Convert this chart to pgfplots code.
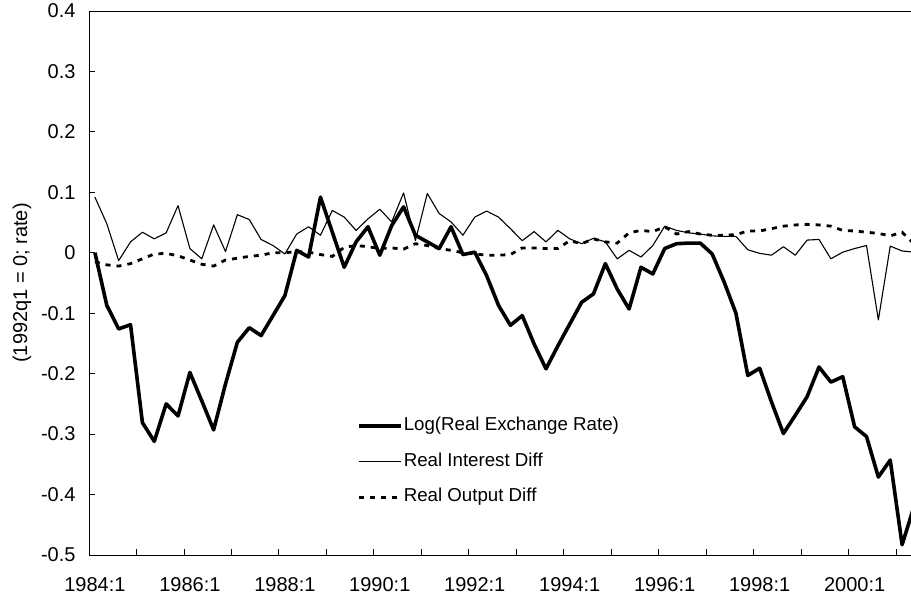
\documentclass[border=0pt]{standalone}
\usepackage{fontspec}
\setmainfont{Liberation Sans}
\usepackage{pgfplots}
\usepackage{pgfplotstable}
\pgfplotsset{compat=1.18}

% quarter index (0 = 1984:1), log real exchange rate, real interest diff, real output diff
\pgfplotstableread{
q rer rid rod
0 0.000 0.092 -0.015
1 -0.087 0.048 -0.020
2 -0.126 -0.013 -0.022
3 -0.119 0.018 -0.018
4 -0.281 0.034 -0.010
5 -0.312 0.023 -0.002
6 -0.250 0.033 -0.001
7 -0.270 0.078 -0.005
8 -0.198 0.007 -0.012
9 -0.245 -0.010 -0.019
10 -0.293 0.046 -0.022
11 -0.217 0.002 -0.012
12 -0.148 0.063 -0.009
13 -0.124 0.055 -0.006
14 -0.137 0.022 -0.004
15 -0.104 0.012 0.000
16 -0.071 -0.002 0.000
17 0.004 0.031 0.002
18 -0.007 0.043 0.001
19 0.092 0.029 -0.003
20 0.034 0.070 -0.006
21 -0.024 0.059 0.009
22 0.018 0.037 0.012
23 0.043 0.056 0.010
24 -0.004 0.072 0.007
25 0.045 0.051 0.008
26 0.076 0.099 0.006
27 0.029 0.020 0.015
28 0.018 0.098 0.012
29 0.007 0.065 0.007
30 0.043 0.051 0.004
31 -0.003 0.029 0.000
32 0.001 0.059 -0.002
33 -0.038 0.069 -0.004
34 -0.087 0.059 -0.004
35 -0.120 0.040 -0.003
36 -0.104 0.020 0.008
37 -0.151 0.035 0.008
38 -0.192 0.018 0.007
39 -0.154 0.037 0.007
40 -0.118 0.023 0.020
41 -0.082 0.015 0.015
42 -0.068 0.024 0.023
43 -0.018 0.018 0.018
44 -0.060 -0.010 0.016
45 -0.093 0.004 0.033
46 -0.024 -0.007 0.037
47 -0.035 0.012 0.035
48 0.007 0.044 0.043
49 0.015 0.037 0.031
50 0.016 0.033 0.035
51 0.016 0.031 0.031
52 -0.002 0.028 0.029
53 -0.048 0.027 0.029
54 -0.100 0.027 0.030
55 -0.203 0.005 0.036
56 -0.191 -0.001 0.036
57 -0.247 -0.004 0.040
58 -0.299 0.010 0.044
59 -0.269 -0.004 0.046
60 -0.238 0.021 0.047
61 -0.189 0.022 0.046
62 -0.214 -0.010 0.044
63 -0.205 0.001 0.037
64 -0.288 0.007 0.036
65 -0.304 0.012 0.034
66 -0.371 -0.111 0.032
67 -0.343 0.011 0.028
68 -0.483 0.003 0.034
69 -0.420 0.001 0.015
}\series

\begin{document}
\begin{tikzpicture}
\begin{axis}[
  name=ax,
  scale only axis,
  width=822pt, height=544pt,
  xmin=-0.5, xmax=68.75,
  ymin=-0.5, ymax=0.4,
  axis x line=box, axis y line=left,
  axis line style={-, line width=0.9pt},
  xtick pos=bottom, ytick pos=left,
  tick align=inside,
  xtick={0,8,...,64},
  xticklabels={1984:1,1986:1,1988:1,1990:1,1992:1,1994:1,1996:1,1998:1,2000:1},
  major x tick style={draw=none},
  minor xtick={3.5,7.5,...,67.5},
  minor tick length=6pt,
  major tick length=6pt,
  every tick/.style={black, line width=0.9pt},
  ytick={-0.5,-0.4,-0.3,-0.2,-0.1,0,0.1,0.2,0.3,0.4},
  yticklabels={-0.5,-0.4,-0.3,-0.2,-0.1,0,0.1,0.2,0.3,0.4},
  tick label style={font=\fontsize{20}{24}\selectfont},
  xticklabel style={yshift=-19pt},
  yticklabel style={xshift=-10pt},
  ylabel={(1992q1 = 0; rate)},
  every axis y label/.style={at={(axis description cs:0,0.5)}, xshift=-67pt,
    rotate=90, anchor=center, font=\fontsize{20}{24}\selectfont},
  legend image code/.code={\draw[#1] (0pt,0pt) -- (42pt,0pt);},
  legend cell align=left,
  legend style={draw=none, fill=none, at={(0.326,0.2546)}, anchor=north west,
    inner sep=0pt, row sep=16.5pt, font=\fontsize{18.7}{22}\selectfont,
    nodes={inner sep=1pt, text height=13pt, text depth=4pt}},
]
\addplot[black, line width=3.6pt, line join=round] table[x=q, y=rer]{\series};
\addplot[black, line width=1.1pt, line join=round] table[x=q, y=rid]{\series};
\addplot[black, line width=2.8pt, dash pattern=on 5pt off 6pt] table[x=q, y=rod]{\series};
\legend{Log(Real Exchange Rate), Real Interest Diff, Real Output Diff}
\end{axis}
\pgfresetboundingbox
\path[use as bounding box] ([shift={(-89pt,-46pt)}]ax.south west) rectangle ([shift={(0pt,11pt)}]ax.north east);
\end{tikzpicture}
\end{document}
